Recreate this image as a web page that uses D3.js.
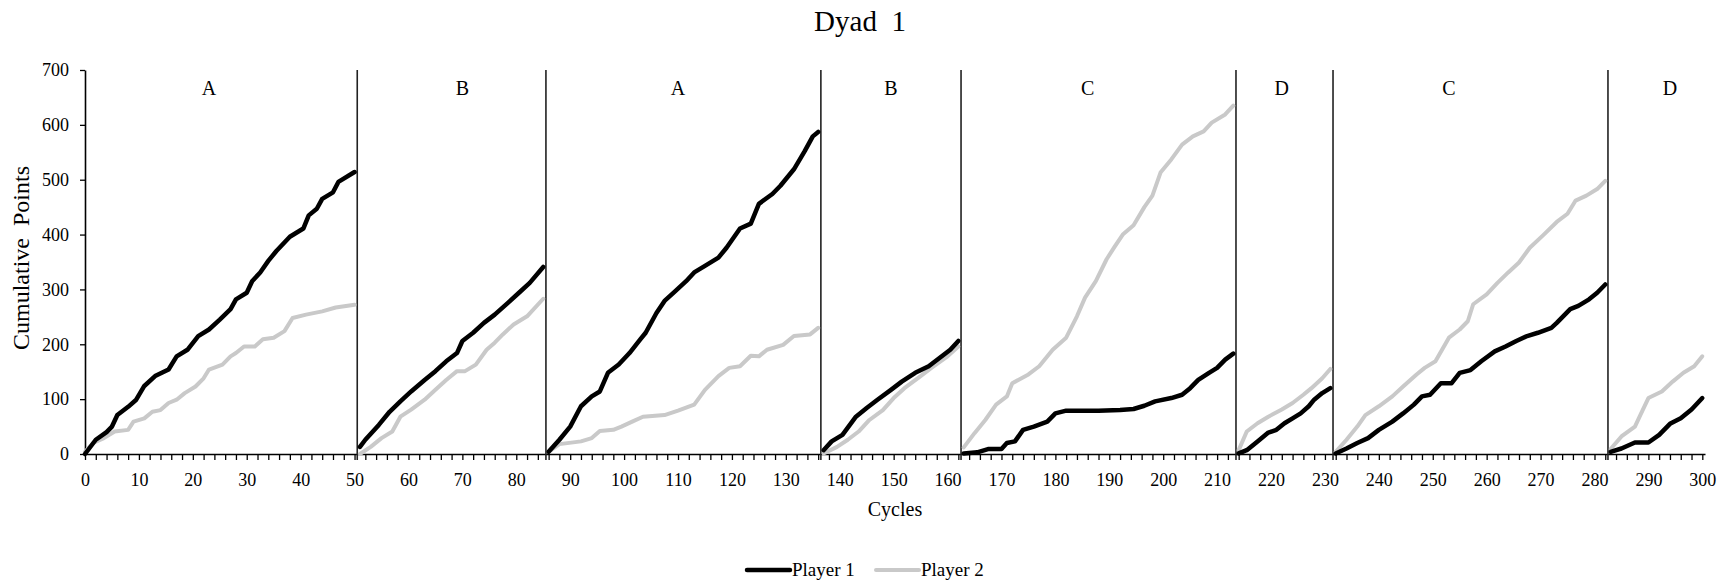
<!DOCTYPE html>
<html>
<head>
<meta charset="utf-8">
<script src="https://cdn.jsdelivr.net/npm/d3@7"></script>
<style>
  body { margin: 0; background: #fff; }
  svg text { font-family: "Liberation Serif", "Times New Roman", serif; fill: #000; }
</style>
</head>
<body>
<div id="chart"></div>
<script>
// phases of the session
const phaseNames = ["A", "B", "A", "B", "C", "D", "C", "D"];
const phaseBreaks = [50.5, 85.5, 136.5, 162.5, 213.5, 231.5, 282.5];
const phaseLabelAt = [23, 70, 110, 149.5, 186, 222, 253, 294];

const yTicks = [0, 100, 200, 300, 400, 500, 600, 700];

// cumulative points, one array per phase: [cycle, points]
const player1 = [
  [[0,0],[2,26],[4,40],[5,50],[6,71],[8,86],[9.5,99],[11,124],[13,142],[15.5,154],[17,178],[19,190],[21,215],[23,227],[25,245],[27,264],[28,282],[30,294],[31,315],[32.5,331],[34,352],[35.5,370],[38,396],[40.5,411],[41.5,435],[43,447],[44,465],[46,477],[47,496],[50,514]],
  [[51,13],[52,26],[54.5,53],[56.5,77],[58.5,96],[60.5,114],[63,135],[65,151],[67,169],[69,184],[70,206],[72,221],[74,239],[76,254],[78.5,276],[80.5,294],[82.5,312],[85,341]],
  [[86,4],[88,26],[90,50],[92,87],[94,105],[95.5,114],[97,148],[99,163],[101,184],[103,209],[104,221],[106,257],[107.5,279],[109.5,297],[111.5,315],[113,331],[115,343],[117.5,358],[119,376],[121.5,411],[123.5,420],[125,456],[127.5,474],[129,489],[131.5,519],[133.5,552],[135,579],[136,587]],
  [[137,7],[138.5,23],[140.5,35],[143,68],[145,84],[147,99],[149.5,117],[151.5,132],[154,148],[156.5,160],[158.5,175],[160.5,190],[162,206]],
  [[163,1],[165.5,3],[167.5,9],[170,9],[171,20],[172.5,23],[174,44],[176,50],[178.5,59],[180,74],[182,79],[188,79],[192,80],[194.5,82],[196.5,88],[198.5,96],[201.5,102],[203.5,108],[205,120],[206.5,135],[208.5,148],[210,157],[211.5,172],[213,183]],
  [[214,1],[215.5,7],[217.5,23],[219.5,39],[221,44],[222.5,56],[224,65],[225.5,74],[227,87],[228,99],[229.5,111],[231,120]],
  [[232,1],[234,10],[236,20],[238,29],[240,44],[242.5,59],[244.5,74],[246.5,90],[248,105],[249.5,108],[251.5,129],[253.5,129],[255,148],[257,153],[259,169],[261.5,187],[263.5,196],[265.5,206],[267.5,215],[269.5,221],[272,230],[273,239],[275.5,264],[277,270],[279,282],[280.5,294],[282,309]],
  [[283,4],[285,10],[287.5,21],[290,21],[292,35],[294,55],[296,65],[298,81],[300,102]]
];

const player2 = [
  [[0,4],[1.5,20],[3.5,29],[5.5,41],[8,44],[9,59],[11,65],[12.5,77],[14,80],[15.5,93],[17,99],[18.5,111],[20.5,123],[22,138],[23,154],[25.5,163],[27,178],[28,184],[29.5,196],[31.5,196],[33,209],[35,212],[37,224],[38.5,248],[41,254],[44,260],[46.5,267],[50,272]],
  [[51,0],[53,13],[55,29],[57,41],[58.5,68],[60.5,81],[63,99],[65,117],[67,135],[69,151],[70.5,151],[72.5,163],[74.5,190],[76,203],[77.5,218],[79.5,236],[82,251],[85,283]],
  [[86,4],[88,18],[92,23],[94,29],[95.5,42],[98,44],[99.5,50],[101.5,59],[103.5,68],[107.5,71],[110,79],[113,90],[115,117],[117.5,142],[119.5,157],[121.5,160],[123.5,179],[125,178],[126.5,190],[129.5,199],[131.5,215],[134.5,218],[136,230]],
  [[137,1],[139.5,13],[141.5,26],[143.5,41],[145.5,62],[148,80],[150,102],[152,120],[155,142],[157,157],[160,178],[162,196]],
  [[163,12],[165,38],[167,62],[169,90],[171,105],[172,129],[175,145],[177,160],[179.5,190],[182,212],[184,251],[185.5,285],[187.5,315],[189.5,355],[191,378],[192.5,400],[194.5,417],[196.5,450],[198,471],[199.5,513],[201.5,537],[203.5,564],[205.5,579],[207.5,588],[209,604],[211.5,619],[213,635]],
  [[214,7],[215.5,41],[217.5,56],[219.5,68],[222,81],[224,93],[226,108],[227.5,120],[229.5,138],[231,155]],
  [[232,4],[234,26],[236,50],[237.5,71],[240,87],[242.5,105],[244.5,123],[247,145],[248.5,157],[250.5,169],[253,212],[255,227],[256.5,242],[257.5,273],[260,291],[262,312],[264,331],[266,349],[268,376],[270.5,399],[273,423],[275,438],[276.5,462],[278.5,471],[280.5,483],[282,498]],
  [[283,9],[285,32],[287.5,50],[288.5,71],[290,102],[292.5,114],[294.5,132],[296.5,148],[298.5,160],[300,178]]
];

const width = 1726, height = 585;

const svg = d3.select('#chart')
  .append('svg')
  .attr('width', width)
  .attr('height', height);

const x = d3.scaleLinear().domain([0, 300.5]).range([85, 1705]);
const y = d3.scaleLinear().domain([0, 700]).range([454, 70]);

// title
svg.append('text')
  .attr('x', 860).attr('y', 31)
  .attr('text-anchor', 'middle')
  .style('font-size', '29px')
  .style('white-space', 'pre')
  .text('Dyad\u00a0\u00a01');

// x axis
const xAxis = d3.axisBottom(x)
  .tickValues(d3.range(0, 301, 2))
  .tickSize(6)
  .tickSizeOuter(0)
  .tickPadding(13)
  .tickFormat(d => d % 10 === 0 ? d : '');

const gx = svg.append('g')
  .attr('transform', `translate(0,${y(0)})`)
  .call(xAxis);
gx.select('.domain').attr('stroke', '#000').attr('stroke-width', 1.6);
gx.selectAll('.tick line').attr('stroke', '#000').attr('stroke-width', 1.3);
gx.selectAll('.tick text')
  .style('font-size', '18px')
  .attr('font-family', null);

// y axis
const yAxis = d3.axisLeft(y)
  .tickValues(yTicks)
  .tickSize(5)
  .tickSizeOuter(0)
  .tickPadding(11);

const gy = svg.append('g')
  .attr('transform', `translate(${x(0)},0)`)
  .call(yAxis);
gy.select('.domain').attr('stroke', '#000').attr('stroke-width', 1.6);
gy.selectAll('.tick line').attr('stroke', '#000').attr('stroke-width', 1.3);
gy.selectAll('.tick text')
  .style('font-size', '18px')
  .attr('font-family', null);

// phase change lines
svg.selectAll('line.phase')
  .data(phaseBreaks)
  .enter()
  .append('line')
  .attr('class', 'phase')
  .attr('x1', d => x(d)).attr('x2', d => x(d))
  .attr('y1', y(700)).attr('y2', y(0) + 6)
  .attr('stroke', '#222')
  .attr('stroke-width', 1.6);

// phase names
svg.selectAll('text.phase')
  .data(phaseNames)
  .enter()
  .append('text')
  .attr('class', 'phase')
  .attr('x', (d, i) => x(phaseLabelAt[i]))
  .attr('y', 95)
  .attr('text-anchor', 'middle')
  .style('font-size', '20px')
  .text(d => d);

// axis titles
svg.append('text')
  .attr('x', 895).attr('y', 516)
  .attr('text-anchor', 'middle')
  .style('font-size', '20px')
  .text('Cycles');

svg.append('text')
  .attr('transform', 'translate(29,258) rotate(-90)')
  .attr('text-anchor', 'middle')
  .style('font-size', '24px')
  .text('Cumulative\u00a0\u00a0Points');

// the data lines
const line = d3.line()
  .x(d => x(d[0]))
  .y(d => y(d[1]));

svg.append('g')
  .selectAll('path')
  .data(player2)
  .enter()
  .append('path')
  .attr('d', line)
  .attr('fill', 'none')
  .attr('stroke', '#c9c9c9')
  .attr('stroke-width', 4)
  .attr('stroke-linejoin', 'round')
  .attr('stroke-linecap', 'round');

svg.append('g')
  .selectAll('path')
  .data(player1)
  .enter()
  .append('path')
  .attr('d', line)
  .attr('fill', 'none')
  .attr('stroke', '#000')
  .attr('stroke-width', 4.5)
  .attr('stroke-linejoin', 'round')
  .attr('stroke-linecap', 'round');

// legend
const legendItems = [
  { name: 'Player 1', color: '#000', w: 4.5, x: 747 },
  { name: 'Player 2', color: '#c9c9c9', w: 4, x: 876 }
];

const legend = svg.selectAll('g.legend')
  .data(legendItems)
  .enter()
  .append('g')
  .attr('class', 'legend')
  .attr('transform', d => `translate(${d.x},570)`);

legend.append('line')
  .attr('x1', 0).attr('x2', 43)
  .attr('y1', 0).attr('y2', 0)
  .attr('stroke', d => d.color)
  .attr('stroke-width', d => d.w)
  .attr('stroke-linecap', 'round');

legend.append('text')
  .attr('x', 45).attr('y', 6)
  .style('font-size', '19px')
  .text(d => d.name);
</script>
</body>
</html>
